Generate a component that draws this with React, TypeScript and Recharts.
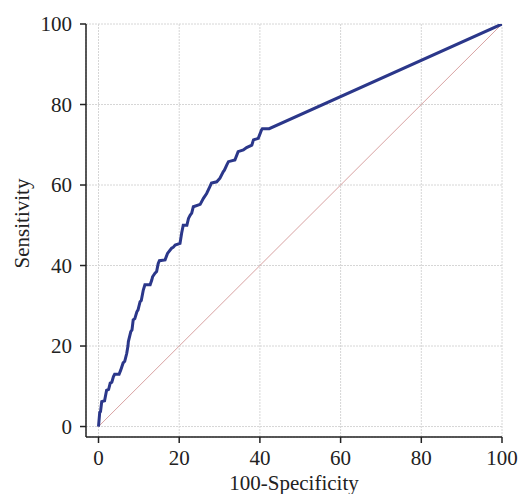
import React from 'react';
import { LineChart, Line, XAxis, YAxis, CartesianGrid } from 'recharts';

const FONT = '"Liberation Serif", "Times New Roman", serif';
const C = { CURVE: '#2b378a', DIAG: '#d8a2a2', GRID: '#d6d6d6', AXIS: '#222', TEXT: '#222' };

// ROC curve: 100-specificity vs sensitivity
const fpr = [
  0, 0.3, 0.5, 0.8, 1.5, 2, 2.5, 2.9, 3.3, 3.7, 4.0, 5.1, 5.5, 6.1, 6.5, 7, 7.3, 7.4, 8, 8.3,
  8.6, 9, 9.5, 9.8, 10.3, 10.6, 11.1, 11.5, 12.8, 13.2, 13.4, 14, 14.4, 14.8, 15.1, 16.5, 17.1, 18.1, 18.5, 19,
  20.2, 20.6, 21, 21.9, 22.3, 22.7, 23.1, 23.5, 25.2, 26, 26.8, 27.6, 28, 29.3, 30.1, 30.9, 31.2, 31.8, 32.2, 33.8,
  34.6, 35.9, 36.7, 38, 38.4, 39.6, 40.4, 40.6, 42.3, 100,
];
const sens = [
  0, 3.5, 3.7, 6.2, 6.4, 9, 9.2, 10.8, 11, 12.4, 13, 13, 14, 15.8, 16.2, 18.2, 20, 21.1, 23.6, 24,
  26.5, 26.8, 28.5, 29, 31, 31.3, 33.9, 35.2, 35.2, 36.4, 37.2, 38.1, 38.5, 40.5, 41.2, 41.4, 43, 44.3, 44.5, 45.1,
  45.5, 48, 50, 50, 51.7, 52.5, 53, 54.6, 55.2, 56.7, 57.9, 59.6, 60.5, 60.8, 61.7, 63.3, 63.7, 65, 65.8, 66.2,
  68.3, 68.7, 69.3, 69.9, 71.2, 71.6, 73.7, 74, 74, 100,
];
const diagX = [0, 100];
const diagY = [0, 100];
const ticks = [0, 20, 40, 60, 80, 100];

const rocData = fpr.map((x, i) => ({ x, y: sens[i] }));
const diagData = diagX.map((x, i) => ({ x, d: diagY[i] }));

const YTitle = (props: any) => {
  const vb = props.viewBox || {};
  const cx = vb.x + 22;
  const cy = vb.y + vb.height / 2 - 7;
  return (
    <text x={cx} y={cy} transform={`rotate(-90, ${cx}, ${cy})`} textAnchor="middle" dominantBaseline="central"
      fill={C.TEXT} fontSize={21} fontFamily={FONT}>
      Sensitivity
    </text>
  );
};

const App: React.FC = () => {
  const tick = { fill: C.TEXT, fontSize: 21, fontFamily: FONT };
  return (
    <div style={{ position: 'absolute', left: 0, top: 0, width: 520, height: 494, background: '#fff' }}>
      <LineChart width={520} height={494} margin={{ top: 24, right: 18, bottom: 7, left: 0 }}>
        <CartesianGrid stroke={C.GRID} strokeDasharray="2 1" />
        <XAxis type="number" dataKey="x" domain={[-3.1, 100]} ticks={ticks} allowDataOverflow
          height={50} tick={tick} tickSize={6} tickMargin={7}
          axisLine={{ stroke: C.AXIS, strokeWidth: 1.5 }} tickLine={{ stroke: C.AXIS, strokeWidth: 1.5 }}
          label={{ value: '100-Specificity', position: 'bottom', offset: -12, fill: C.TEXT, fontSize: 21, fontFamily: FONT }} />
        <YAxis type="number" domain={[-2.6, 100]} ticks={ticks} allowDataOverflow
          width={86} tick={tick} tickSize={6} tickMargin={8}
          axisLine={{ stroke: C.AXIS, strokeWidth: 1.5 }} tickLine={{ stroke: C.AXIS, strokeWidth: 1.5 }}
          label={<YTitle />} />
        <Line data={diagData} dataKey="d" stroke={C.DIAG} strokeWidth={1} dot={false} isAnimationActive={false} />
        <Line data={rocData} dataKey="y" stroke={C.CURVE} strokeWidth={3} dot={false} isAnimationActive={false} />
      </LineChart>
    </div>
  );
};

export default App;
